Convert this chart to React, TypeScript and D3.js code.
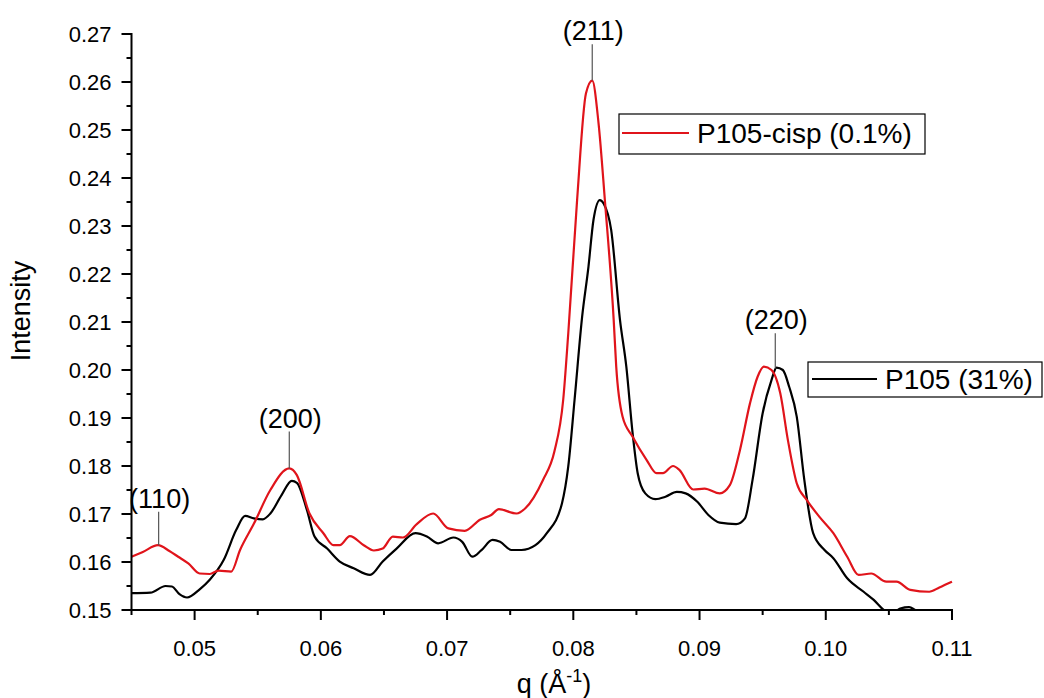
import React from "react";
import * as d3 from "d3";

const qRed = [0.0450,0.0459,0.0471,0.0480,0.0487,0.0495,0.0504,0.0512,0.0519,0.0529,0.0536,0.0547,0.0560,0.0575,0.0581,0.0591,0.0602,0.0610,0.0615,0.0623,0.0634,0.0642,0.0649,0.0657,0.0665,0.0676,0.0689,0.0701,0.0714,0.0726,0.0735,0.0741,0.0755,0.0762,0.0776,0.0785,0.0792,0.0796,0.0803,0.0810,0.0815,0.0820,0.0825,0.0832,0.0834,0.0839,0.0847,0.0858,0.0866,0.0871,0.0879,0.0884,0.0895,0.0904,0.0916,0.0924,0.0932,0.0940,0.0946,0.0951,0.0957,0.0964,0.0970,0.0977,0.0985,0.0995,0.1006,0.1017,0.1026,0.1036,0.1048,0.1056,0.1067,0.1082,0.1090,0.1100];
const iRed = [0.1611,0.1621,0.1635,0.1623,0.1611,0.1597,0.1576,0.1575,0.1582,0.1580,0.1625,0.1680,0.1750,0.1795,0.1781,0.1701,0.1660,0.1635,0.1635,0.1654,0.1635,0.1624,0.1628,0.1653,0.1651,0.1679,0.1701,0.1670,0.1665,0.1688,0.1698,0.1710,0.1701,0.1712,0.1771,0.1830,0.1938,0.2076,0.2354,0.2576,0.2603,0.2514,0.2354,0.2104,0.2007,0.1903,0.1861,0.1813,0.1785,0.1785,0.1800,0.1792,0.1751,0.1753,0.1743,0.1760,0.1833,0.1931,0.1986,0.2007,0.2000,0.1951,0.1854,0.1764,0.1729,0.1694,0.1660,0.1611,0.1573,0.1576,0.1559,0.1559,0.1542,0.1538,0.1547,0.1559];

const qBlack = [0.0450,0.0465,0.0477,0.0482,0.0488,0.0494,0.0504,0.0512,0.0523,0.0533,0.0540,0.0547,0.0554,0.0560,0.0569,0.0577,0.0581,0.0589,0.0595,0.0605,0.0615,0.0626,0.0639,0.0649,0.0660,0.0675,0.0684,0.0693,0.0705,0.0712,0.0720,0.0727,0.0736,0.0742,0.0751,0.0759,0.0770,0.0779,0.0791,0.0796,0.0801,0.0807,0.0812,0.0816,0.0821,0.0824,0.0830,0.0837,0.0842,0.0847,0.0851,0.0857,0.0865,0.0873,0.0882,0.0889,0.0898,0.0907,0.0916,0.0929,0.0936,0.0942,0.0950,0.0957,0.0961,0.0966,0.0971,0.0977,0.0983,0.0990,0.0999,0.1006,0.1017,0.1030,0.1038,0.1046,0.1052,0.1059,0.1066,0.1071,0.1078,0.1100];
const iBlack = [0.1535,0.1536,0.1550,0.1549,0.1533,0.1526,0.1543,0.1563,0.1604,0.1667,0.1696,0.1691,0.1689,0.1701,0.1740,0.1769,0.1765,0.1708,0.1653,0.1628,0.1601,0.1587,0.1573,0.1601,0.1628,0.1660,0.1653,0.1639,0.1651,0.1642,0.1611,0.1624,0.1646,0.1642,0.1625,0.1625,0.1635,0.1660,0.1722,0.1799,0.1938,0.2111,0.2215,0.2313,0.2354,0.2347,0.2292,0.2104,0.2007,0.1868,0.1785,0.1743,0.1731,0.1736,0.1746,0.1743,0.1726,0.1698,0.1682,0.1679,0.1691,0.1771,0.1910,0.1979,0.2005,0.2000,0.1965,0.1903,0.1771,0.1660,0.1625,0.1608,0.1566,0.1538,0.1521,0.1500,0.1492,0.1503,0.1506,0.1500,0.1490,0.1485];

const xMajor = [0.05, 0.06, 0.07, 0.08, 0.09, 0.10, 0.11];
const xMinor = [0.045, 0.055, 0.065, 0.075, 0.085, 0.095, 0.105];
const xLabels = ["0.05", "0.06", "0.07", "0.08", "0.09", "0.10", "0.11"];
const yMajor = [0.15, 0.16, 0.17, 0.18, 0.19, 0.20, 0.21, 0.22, 0.23, 0.24, 0.25, 0.26, 0.27];
const yMinor = [0.155, 0.165, 0.175, 0.185, 0.195, 0.205, 0.215, 0.225, 0.235, 0.245, 0.255, 0.265];

// peak annotations: label, q of peak, intensity at leader bottom, intensity at label baseline
const peakLabels = ["(110)", "(200)", "(211)", "(220)"];
const peakQ = [0.04715, 0.0575, 0.0815, 0.0960];
const peakTip = [0.1635, 0.1795, 0.2603, 0.2003];
const peakTop = [0.1713, 0.1880, 0.2687, 0.2085];

const seriesNames = ["P105-cisp (0.1%)", "P105 (31%)"];
const seriesColors = ["#e0141b", "#000000"];

const FONT = "'Liberation Sans', Arial, sans-serif";

export default function App() {
  const x = d3.scaleLinear().domain([0.045, 0.11]).range([131.5, 952]);
  const y = d3.scaleLinear().domain([0.15, 0.27]).range([610, 34]);
  const line = d3
    .line<[number, number]>()
    .x((d) => x(d[0]))
    .y((d) => y(d[1]))
    .curve(d3.curveMonotoneX);
  const redPts = qRed.map((q, i) => [q, iRed[i]] as [number, number]);
  const blackPts = qBlack.map((q, i) => [q, iBlack[i]] as [number, number]);

  return (
    <svg
      width={1044}
      height={698}
      style={{ position: "absolute", left: 0, top: 0, background: "#fff" }}
      fontFamily={FONT}
    >
      <defs>
        <clipPath id="plotClip">
          <rect x={131.5} y={20} width={830} height={589} />
        </clipPath>
      </defs>
      <rect width={1044} height={698} fill="#fff" />
      <g clipPath="url(#plotClip)">
        <path d={line(blackPts) || ""} fill="none" stroke={seriesColors[1]} strokeWidth={2.2} strokeLinejoin="round" />
        <path d={line(redPts) || ""} fill="none" stroke={seriesColors[0]} strokeWidth={2.2} strokeLinejoin="round" />
      </g>

      {/* axes */}
      <line x1={x(0.045)} x2={x(0.045)} y1={y(0.27) - 1} y2={y(0.15) + 1} stroke="#000" strokeWidth={2} />
      <line x1={x(0.045) - 1} x2={x(0.11) + 1} y1={y(0.15)} y2={y(0.15)} stroke="#000" strokeWidth={2} />
      {yMajor.map((v) => (
        <g key={"ym" + v}>
          <line x1={x(0.045) - 10} x2={x(0.045)} y1={y(v)} y2={y(v)} stroke="#000" strokeWidth={2} />
          <text x={x(0.045) - 20} y={y(v)} dy="0.36em" textAnchor="end" fontSize={22} fill="#000">
            {v.toFixed(2)}
          </text>
        </g>
      ))}
      {yMinor.map((v) => (
        <line key={"yn" + v} x1={x(0.045) - 5} x2={x(0.045)} y1={y(v)} y2={y(v)} stroke="#000" strokeWidth={2} />
      ))}
      {xMajor.map((v, i) => (
        <g key={"xm" + v}>
          <line x1={x(v)} x2={x(v)} y1={y(0.15)} y2={y(0.15) + 10} stroke="#000" strokeWidth={2} />
          <text x={x(v)} y={656} textAnchor="middle" fontSize={22} fill="#000">
            {xLabels[i]}
          </text>
        </g>
      ))}
      {xMinor.map((v) => (
        <line key={"xn" + v} x1={x(v)} x2={x(v)} y1={y(0.15)} y2={y(0.15) + 5} stroke="#000" strokeWidth={2} />
      ))}

      {/* axis titles */}
      <text transform="translate(30,311) rotate(-90)" textAnchor="middle" fontSize={27} fill="#000">
        Intensity
      </text>
      <text x={554} y={693} textAnchor="middle" fontSize={27} fill="#000">
        q (Å
        <tspan fontSize={18} dy={-11}>-1</tspan>
        <tspan dy={11}>)</tspan>
      </text>

      {/* peak annotations */}
      {peakLabels.map((lab, i) => (
        <g key={lab}>
          <line x1={x(peakQ[i])} x2={x(peakQ[i])} y1={y(peakTop[i]) + 4} y2={y(peakTip[i])} stroke="#555" strokeWidth={1.2} />
          <text x={x(peakQ[i]) + 1} y={y(peakTop[i])} textAnchor="middle" fontSize={27} fill="#000">
            {lab}
          </text>
        </g>
      ))}

      {/* legends */}
      <g>
        <rect x={619} y={114} width={306} height={40} fill="#fff" stroke="#000" strokeWidth={1.2} />
        <line x1={622} x2={689} y1={133} y2={133} stroke={seriesColors[0]} strokeWidth={2.2} />
        <text x={697} y={143} fontSize={28} fill="#000">{seriesNames[0]}</text>
      </g>
      <g>
        <rect x={808} y={362} width={234} height={35} fill="#fff" stroke="#000" strokeWidth={1.2} />
        <line x1={812} x2={877} y1={379} y2={379} stroke={seriesColors[1]} strokeWidth={2.2} />
        <text x={885} y={389} fontSize={28} fill="#000">{seriesNames[1]}</text>
      </g>
    </svg>
  );
}
